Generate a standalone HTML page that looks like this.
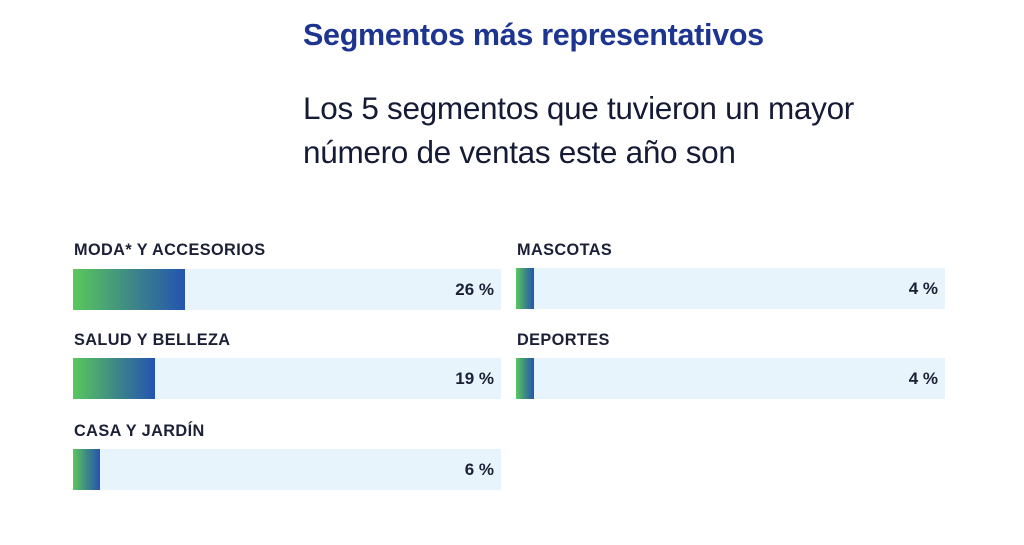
<!DOCTYPE html>
<html><head><meta charset="utf-8"><style>
body{margin:0;width:1024px;height:545px;background:#fff;font-family:"Liberation Sans",sans-serif;position:relative;overflow:hidden;color:#151a35}
.t{position:absolute;left:303px;top:18px;font-size:30.5px;font-weight:bold;color:#1d3591;letter-spacing:-0.3px}
.s{position:absolute;left:303px;top:86px;font-size:31.5px;line-height:44px;color:#151a35;letter-spacing:-0.3px}
.l{position:absolute;font-size:16.3px;font-weight:bold;letter-spacing:0.4px;color:#1c2036}
.b{position:absolute;height:41px;background:#e8f4fc}
.f{position:absolute;left:0;top:0;height:41px;background:linear-gradient(90deg,#5ac85c,#3f8a84,#2454b0)}
.p{position:absolute;right:7px;top:11px;font-size:17px;font-weight:bold;color:#1c2036}
</style></head><body>
<div class="t">Segmentos más representativos</div>
<div class="s">Los 5 segmentos que tuvieron un mayor<br>número de ventas este año son</div>

<div class="l" style="left:74px;top:241px">MODA* Y ACCESORIOS</div>
<div class="b" style="left:73px;top:269px;width:428px"><div class="f" style="width:112px"></div><div class="p">26 %</div></div>

<div class="l" style="left:74px;top:331px">SALUD Y BELLEZA</div>
<div class="b" style="left:73px;top:358px;width:428px"><div class="f" style="width:82px"></div><div class="p">19 %</div></div>

<div class="l" style="left:74px;top:422px">CASA Y JARDÍN</div>
<div class="b" style="left:73px;top:449px;width:428px"><div class="f" style="width:27px"></div><div class="p">6 %</div></div>

<div class="l" style="left:517px;top:241px">MASCOTAS</div>
<div class="b" style="left:516px;top:268px;width:429px"><div class="f" style="width:18px"></div><div class="p">4 %</div></div>

<div class="l" style="left:517px;top:331px">DEPORTES</div>
<div class="b" style="left:516px;top:358px;width:429px"><div class="f" style="width:18px"></div><div class="p">4 %</div></div>
</body></html>
